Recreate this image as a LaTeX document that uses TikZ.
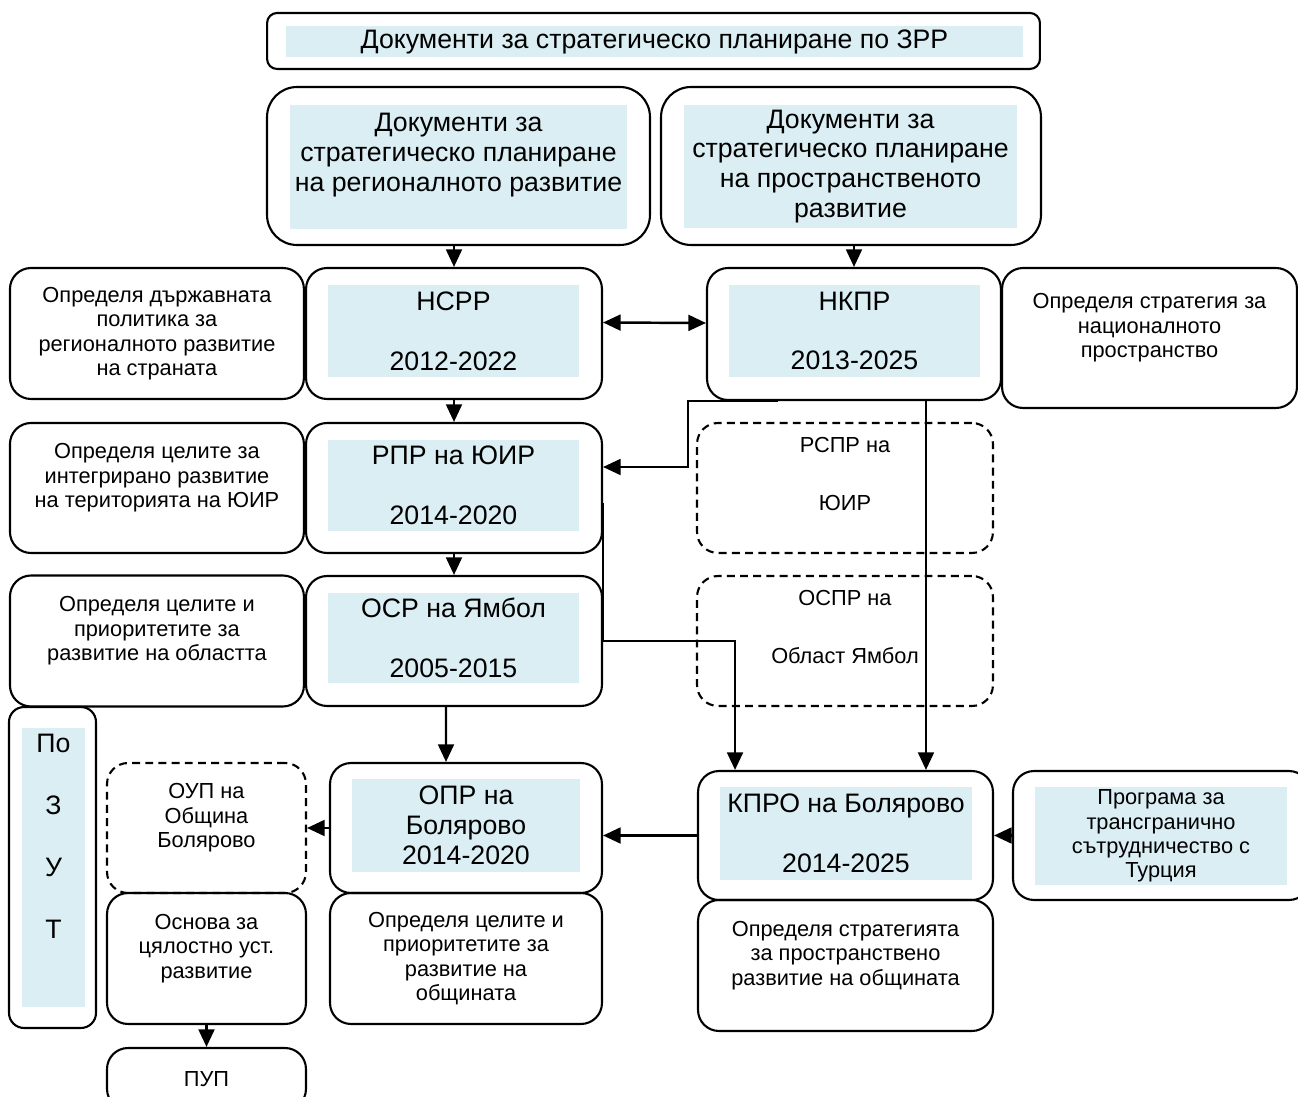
\documentclass[tikz,border=0pt]{standalone}
\usepackage{fontspec}
\setmainfont{Liberation Sans}
\usetikzlibrary{positioning,arrows.meta}
\definecolor{paleblue}{RGB}{218,238,243}
\tikzset{
     arrow/.style={-{Triangle[length=10pt,width=9pt]}, line width=1.4pt},
     biarrow/.style={{Triangle[length=10pt,width=9pt]}-{Triangle[length=10pt,width=9pt]}, line width=1.4pt},
     box/.style={draw, line width=1.2pt, rounded corners=0.42cm, inner sep=0pt, align=center},
     dbox/.style={box, dash pattern=on 4.5pt off 3pt},
     shade/.style={fill=paleblue, inner sep=0pt, align=center},
     big/.style={font=\fontsize{15.2}{17}\selectfont},
     small/.style={font=\fontsize{12.4}{13.9}\selectfont}
     }

\begin{document}
\begin{tikzpicture}[x=0.02cm, y=-0.02cm]
                    \useasboundingbox (0,0) rectangle (1298,1097);
                    % Place nodes
                    \node [box, rounded corners=0.2cm, minimum width=15.46cm, minimum height=1.12cm] (zrr) at (653.5,41) {};
                    \node [shade, big, minimum width=14.74cm, minimum height=0.62cm] (zrr-in) at (654.5,41.5) {Документи за стратегическо планиране по ЗРР};
                    \node [box, rounded corners=0.6cm, minimum width=7.66cm, minimum height=3.16cm] (reg) at (458.5,166) {};
                    \node [shade, big, minimum width=6.74cm, minimum height=2.48cm] (reg-in) at (458.5,167) {Документи за\\стратегическо планиране\\на регионалното развитие\\\mbox{}};
                    \node [box, rounded corners=0.6cm, minimum width=7.6cm, minimum height=3.16cm] (spat) at (851,166) {};
                    \node [shade, big, minimum width=6.66cm, minimum height=2.46cm] (spat-in) at (850.5,166.5) {Документи за\\стратегическо планиране\\на пространственото\\развитие};
                    % national level
                    \node [box, minimum width=5.92cm, minimum height=2.62cm] (nsrr) at (454,333.5) {};
                    \node [shade, big, minimum width=5.02cm, minimum height=1.84cm] (nsrr-in) at (453.5,331) {НСРР\\[17pt]2012-2022};
                    \node [box, small, minimum width=5.88cm, minimum height=2.62cm, left=0pt of nsrr] (nsrr-d) {Определя държавната\\политика за\\регионалното развитие\\на страната};
                    \node [box, minimum width=5.88cm, minimum height=2.64cm] (nkpr) at (854,334) {};
                    \node [shade, big, minimum width=5.02cm, minimum height=1.84cm] (nkpr-in) at (854.5,331) {НКПР\\[17pt]2013-2025};
                    \node [box, small, minimum width=5.9cm, minimum height=2.8cm] (nkpr-d) at (1149.5,338) {Определя стратегия за\\националното\\пространство\\\mbox{}};
                    % regional level
                    \node [box, minimum width=5.92cm, minimum height=2.6cm] (rpr) at (454,488) {};
                    \node [shade, big, minimum width=5.02cm, minimum height=1.82cm] (rpr-in) at (453.5,485.5) {РПР на ЮИР\\[17pt]2014-2020};
                    \node [box, small, minimum width=5.88cm, minimum height=2.6cm, left=0pt of rpr] (rpr-d) {Определя целите за\\интегрирано развитие\\на територията на ЮИР\\\mbox{}};
                    \node [dbox, small, minimum width=5.92cm, minimum height=2.6cm] (rspr) at (845,488) {РСПР на\\[19pt]ЮИР\\[2pt]\mbox{}};
                    % district level
                    \node [box, minimum width=5.92cm, minimum height=2.6cm] (osr) at (454,641) {};
                    \node [shade, big, minimum width=5.02cm, minimum height=1.8cm] (osr-in) at (453.5,638) {ОСР на Ямбол\\[17pt]2005-2015};
                    \node [box, small, minimum width=5.88cm, minimum height=2.62cm, left=0pt of osr] (osr-d) {Определя целите и\\приоритетите за\\развитие на областта\\\mbox{}};
                    \node [dbox, small, minimum width=5.92cm, minimum height=2.6cm] (ospr) at (845,641) {ОСПР на\\[19pt]Област Ямбол\\[2pt]\mbox{}};
                    % municipal level
                    \node [box, rounded corners=0.3cm, minimum width=1.74cm, minimum height=6.42cm] (pozut) at (52.5,867.5) {};
                    \node [shade, big, minimum width=1.26cm, minimum height=5.58cm] (pozut-in) at (53.5,867.5) {По\\[18.3pt]З\\[18.3pt]У\\[18.3pt]Т\\[18.3pt]\mbox{}};
                    \node [dbox, small, minimum width=3.98cm, minimum height=2.6cm] (oup) at (206.5,828) {ОУП на\\Община\\Болярово\\\mbox{}};
                    \node [box, minimum width=5.44cm, minimum height=2.6cm] (opr) at (466,828) {};
                    \node [shade, big, minimum width=4.56cm, minimum height=1.86cm] (opr-in) at (466,825.5) {ОПР на\\Болярово\\2014-2020};
                    \node [box, minimum width=5.9cm, minimum height=2.58cm] (kpro) at (845.5,835.5) {};
                    \node [shade, big, minimum width=5.04cm, minimum height=1.86cm] (kpro-in) at (846,833.5) {КПРО на Болярово\\[17pt]2014-2025};
                    \node [box, minimum width=5.94cm, minimum height=2.58cm] (prog) at (1161.5,835.5) {};
                    \node [shade, small, minimum width=5.04cm, minimum height=1.96cm] (prog-in) at (1161,836) {Програма за\\трансгранично\\сътрудничество с\\Турция};
                    \node [box, small, minimum width=3.98cm, minimum height=2.62cm] (osnova) at (206.5,958.5) {Основа за\\цялостно уст.\\развитие\\\mbox{}};
                    \node [box, small, minimum width=5.44cm, minimum height=2.62cm] (opr-d) at (466,958.5) {Определя целите и\\приоритетите за\\развитие на\\общината};
                    \node [box, small, minimum width=5.9cm, minimum height=2.62cm] (kpro-d) at (845.5,965.5) {Определя стратегията\\за пространствено\\развитие на общината\\\mbox{}};
                    \node [box, small, minimum width=3.98cm, minimum height=1.24cm] (pup) at (206.5,1079) {ПУП};
                    % helper points
                    \coordinate (n1) at ([xshift=-1.52cm]nkpr.south);
                    \coordinate (n2) at ([xshift=1.61cm]kpro.north);
                    \coordinate (r1) at ([yshift=-0.3cm]rpr.east);
                    \coordinate (r2) at ([xshift=-2.21cm]kpro.north);
                    % Draw edges
                    \draw[arrow] (reg.south -| nsrr.north) -- (nsrr.north);
                    \draw[arrow] (spat.south -| nkpr.north) -- (nkpr.north);
                    \draw[biarrow] ([yshift=0.22cm]nsrr.east) -- ([yshift=0.22cm]nkpr.west);
                    \draw[arrow] (nsrr.south) -- (rpr.north);
                    \draw[arrow] (rpr.south) -- (osr.north);
                    \draw[arrow] ([xshift=-0.16cm]osr.south) -- ([xshift=-0.4cm]opr.north);
                    \draw[arrow] (n1) -- ++(-90,0) |- ([yshift=0.42cm]rpr.east);
                    \draw[arrow] (n2 |- nkpr.south) -- (n2);
                    \draw[arrow] (r1) -- (r1 |- osr.east) -| (r2);
                    \draw[arrow] (opr.west) -- (oup.east);
                    \draw[arrow] (kpro.west) -- (kpro.west -| opr.east);
                    \draw[arrow] (prog.west) -- (kpro.east);
                    \draw[arrow] (osnova.south) -- (pup.north);
                \end{tikzpicture}
\end{document}
